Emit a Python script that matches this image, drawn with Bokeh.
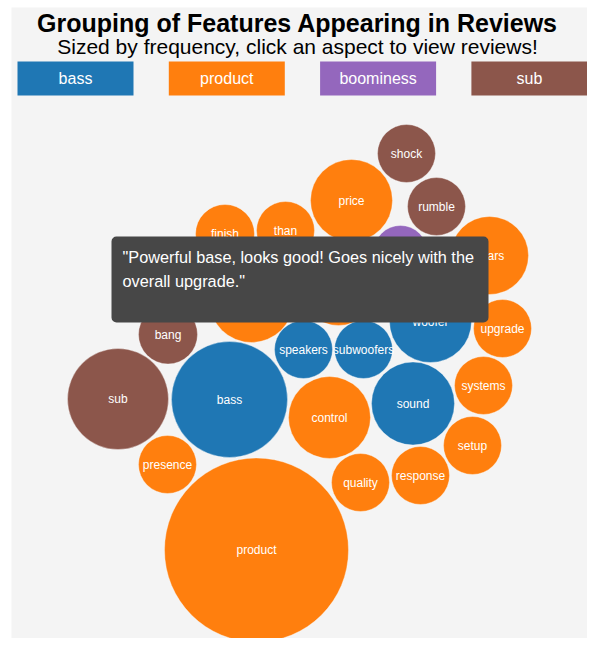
from bokeh.plotting import figure
from bokeh.models import Range1d, ColumnDataSource, Label, BoxAnnotation
from bokeh.transform import factor_cmap
from bokeh.core.properties import value
from bokeh.embed import file_html
from bokeh.resources import INLINE

# ---- data ----
groups = ["bass", "product", "boominess", "sub"]
group_colors = ["#1f77b4", "#ff7f0e", "#9467bd", "#8c564b"]

labels = ["shock", "price", "rumble", "finish", "than", "boominess", "years", "upgrade",
          "look", "base", "bang", "woofer", "speakers", "subwoofers", "sub", "bass",
          "control", "sound", "systems", "setup", "response", "quality", "presence", "product"]
label_group = ["sub", "product", "sub", "product", "product", "boominess", "product", "product",
               "product", "product", "sub", "bass", "bass", "bass", "sub", "bass",
               "product", "bass", "product", "product", "product", "product", "product", "product"]
bubble_radius = [29, 41, 29, 29.5, 29, 27, 39, 29,
                 42, 41, 29.5, 41, 29, 29, 50.5, 58,
                 41, 41.5, 29, 29, 29, 29, 29, 92]
bubble_x = [406, 351, 436, 224.5, 285, 400, 489, 502,
            251, 338, 167.5, 430, 303, 363, 117.5, 229,
            329, 412.5, 483, 472, 420, 360, 167, 256]
bubble_y = [153, 200, 206, 233.5, 230, 252, 255, 328,
            300, 284, 334, 321, 349, 349, 398.5, 399,
            417, 403, 385, 445, 475, 482, 464, 549.5]

title_text = "Grouping of Features Appearing in Reviews"
subtitle_text = "Sized by frequency, click an aspect to view reviews!"
tooltip_lines = ['"Powerful base, looks good! Goes nicely with the', 'overall upgrade."']

FONT = "Liberation Sans"

p = figure(width=587, height=638, x_range=Range1d(0, 587), y_range=Range1d(638, 0),
           output_backend="svg", toolbar_location=None, min_border=0)
p.axis.visible = False
p.grid.visible = False
p.outline_line_color = None
p.background_fill_color = "white"
p.border_fill_color = "white"

# panel
p.quad(left=[11], right=[595], top=[7], bottom=[646], fill_color="#f4f4f4", line_color=None)

# buttons
btn_src = ColumnDataSource(dict(
    g=groups,
    left=[17 + i * 151.3 for i in range(len(groups))],
    right=[17 + i * 151.3 + 116 for i in range(len(groups))],
    cx=[17 + i * 151.3 + 58 for i in range(len(groups))],
))
p.quad(left="left", right="right", top=61, bottom=95, source=btn_src,
       fill_color=factor_cmap("g", group_colors, groups), line_color=None)
p.text(x="cx", y=78, text="g", source=btn_src, text_color="white",
       text_font=value(FONT), text_font_size="16px", text_align="center", text_baseline="middle")

# bubbles
src = ColumnDataSource(dict(x=bubble_x, y=bubble_y, r=bubble_radius, label=labels, g=label_group))
p.circle(x="x", y="y", radius="r", source=src,
         fill_color=factor_cmap("g", group_colors, groups), line_color="white", line_alpha=0.35,
         line_width=1)
p.text(x="x", y="y", text="label", source=src, text_color="white",
       text_font=value(FONT), text_font_size="12px", text_align="center", text_baseline="middle")

# title
p.add_layout(Label(x=297, y=22, text=title_text, text_font=FONT, text_font_size="25px",
                   text_font_style="bold", text_color="black", text_align="center",
                   text_baseline="middle"))
p.add_layout(Label(x=297, y=46, text=subtitle_text, text_font=FONT, text_font_size="21px",
                   text_color="black", text_align="center", text_baseline="middle"))

# tooltip
p.add_layout(BoxAnnotation(left=111, right=488, top=236, bottom=322, fill_color="#474747",
                           fill_alpha=1.0, line_color=None, border_radius=5, level="overlay"))
for i, t in enumerate(tooltip_lines):
    p.add_layout(Label(x=122, y=256 + i * 24, text=t, text_font=FONT, text_font_size="16.3px",
                       text_color="white", text_align="left", text_baseline="middle",
                       level="overlay"))

open("out.html", "w").write(file_html(p, INLINE))
